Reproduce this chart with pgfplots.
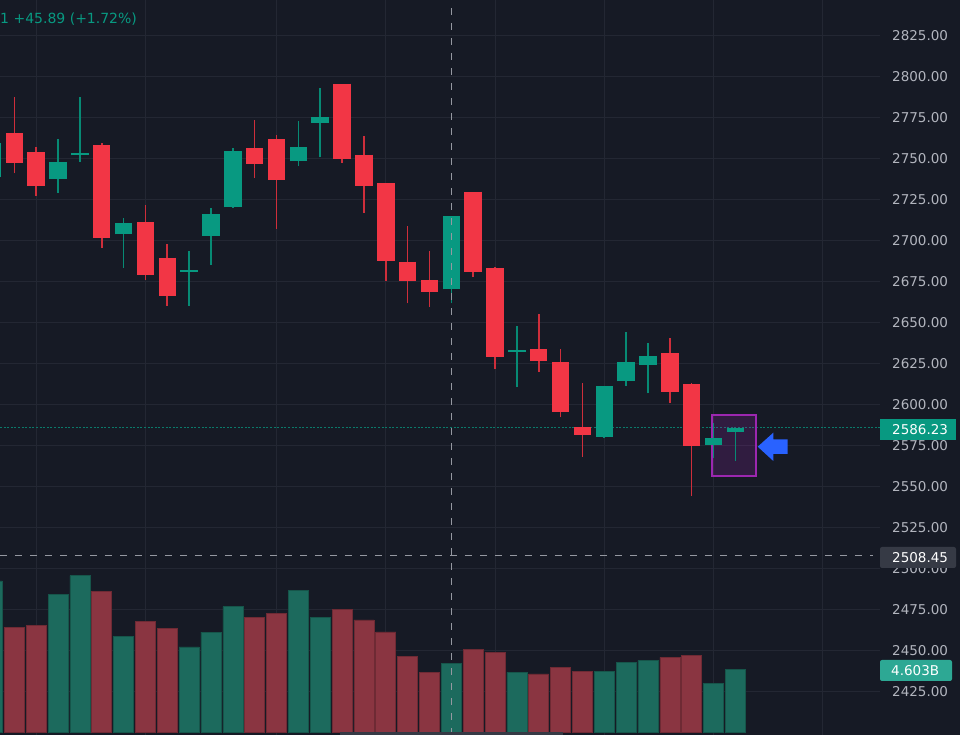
\documentclass[border=0pt]{standalone}
\usepackage{fontspec}
\setmainfont{DejaVu Sans}
\usepackage{pgfplots}
\pgfplotsset{compat=1.18}
\usepackage{pgfplotstable}

\definecolor{bg}{HTML}{161A25}
\definecolor{gridc}{HTML}{232733}
\definecolor{labc}{HTML}{B2B5BE}
\definecolor{upc}{HTML}{089981}
\definecolor{dnc}{HTML}{F23645}
\definecolor{volupc}{HTML}{1C6A5D}
\definecolor{voldnc}{HTML}{8A3541}
\definecolor{crossc}{HTML}{9598A1}
\definecolor{tagc}{HTML}{363A45}
\definecolor{boxc}{HTML}{9C27B0}
\definecolor{arrowc}{HTML}{2962FF}

% candles: index, open, high, low, close
\pgfplotstableread{
i o h l c
0 2739.2 2763.0 2735.0 2759.6
3 2737.8 2762.2 2729.5 2748.4
4 2752.2 2788.0 2748.4 2753.4
6 2704.1 2713.8 2683.7 2711.2
9 2681.0 2694.1 2660.4 2682.5
10 2703.2 2719.9 2685.4 2716.3
11 2720.5 2756.5 2720.0 2755.1
14 2748.6 2773.2 2745.7 2757.1
15 2771.8 2793.1 2751.0 2775.4
21 2670.5 2715.4 2662.0 2715.4
24 2632.3 2648.2 2611.0 2633.5
28 2580.7 2611.8 2580.0 2611.8
29 2614.4 2644.7 2611.8 2626.0
30 2624.6 2638.0 2607.1 2629.9
33 2575.8 2588.8 2567.5 2580.1
34 2583.7 2586.2 2566.0 2586.2
}\tUp

\pgfplotstableread{
i o h l c
1 2765.7 2788.0 2741.3 2747.7
2 2754.1 2757.5 2727.6 2733.7
5 2758.4 2759.6 2695.6 2702.0
7 2711.4 2722.0 2676.2 2679.5
8 2689.8 2698.2 2660.4 2666.5
12 2756.5 2773.8 2738.6 2746.8
13 2762.2 2764.6 2707.3 2737.0
16 2795.9 2795.9 2747.7 2750.2
17 2752.6 2764.0 2717.3 2733.7
18 2735.2 2735.2 2675.6 2687.6
19 2687.4 2709.3 2662.0 2675.6
20 2676.2 2694.1 2659.9 2668.9
22 2730.1 2730.1 2677.9 2681.1
23 2683.5 2684.3 2621.8 2629.3
25 2634.1 2655.5 2620.1 2627.0
26 2626.0 2634.1 2592.5 2595.5
27 2586.6 2613.6 2568.5 2581.5
31 2631.5 2640.7 2601.4 2608.1
32 2612.6 2613.6 2544.5 2575.2
}\tDown

% volume in billions
\pgfplotstableread{
i v
0 11.16
3 10.18
4 11.55
6 7.07
9 6.28
10 7.37
11 9.26
14 10.44
15 8.45
21 5.08
24 4.41
28 4.49
29 5.17
30 5.30
33 3.57
34 4.603
}\tVolUp

\pgfplotstableread{
i v
1 7.74
2 7.86
5 10.37
7 8.18
8 7.66
12 8.48
13 8.77
16 9.07
17 8.28
18 7.39
19 5.59
20 4.38
22 6.08
23 5.86
25 4.29
26 4.78
27 4.49
31 5.52
32 5.67
}\tVolDown

\pgfplotsset{chart/.style={at={(0pt,0pt)}, anchor=south west,
    width=880pt, height=735pt, scale only axis,
    xmin=0.3455, xmax=40.62}}

\begin{document}
\begin{tikzpicture}
\useasboundingbox (0pt,0pt) rectangle (960pt,735pt);
\fill[bg] (0pt,0pt) rectangle (960pt,735pt);

% grid and price scale
\begin{axis}[chart,
    ymin=2398.78, ymax=2846.95,
    axis line style={draw=none},
    major tick length=0pt,
    xtick={2,7,13,18,23,28,33,38}, xticklabel=\empty,
    ytick={2425,2450,...,2825},
    xmajorgrids, ymajorgrids,
    grid style={gridc, line width=1pt},
    yticklabel pos=right,
    yticklabel style={anchor=west, inner sep=0pt, xshift=12pt, text=labc,
        font=\fontsize{13.5}{16}\selectfont,
        /pgf/number format/fixed, /pgf/number format/fixed zerofill,
        /pgf/number format/precision=2, /pgf/number format/1000 sep={},
        /pgf/number format/assume math mode=true},
]
\addplot[upc!75!bg, line width=1.2pt, dash pattern=on 2pt off 1.6pt]
    coordinates {(0.3455,2586.23) (40.62,2586.23)};
\end{axis}

% volume
\begin{axis}[chart, hide axis, ymin=-0.2216, ymax=54.08,
    ybar, bar width=20pt]
\addplot[fill=volupc, draw=volupc!80!black, line width=0.6pt, bar shift=0pt]
    table[x=i, y=v] {\tVolUp};
\addplot[fill=voldnc, draw=voldnc!80!black, line width=0.6pt, bar shift=0pt]
    table[x=i, y=v] {\tVolDown};
\end{axis}

\begin{scope}[x=1pt, y=1pt]
\fill[boxc, fill opacity=0.2] (712,259.3) rectangle (756.3,320);
\draw[boxc, line width=2pt] (712,259.3) rectangle (756.3,320);
\end{scope}

% candles
\begin{axis}[chart, hide axis, ymin=2398.78, ymax=2846.95]
\addplot[upc!90!black, line width=1.6pt, quiver={u=0, v=\thisrow{h}-\thisrow{l}}]
    table[x=i, y=l] {\tUp};
\addplot[dnc!85!black, line width=1.6pt, quiver={u=0, v=\thisrow{h}-\thisrow{l}}]
    table[x=i, y=l] {\tDown};
\addplot[upc, line width=17.5pt, quiver={u=0, v=\thisrow{c}-\thisrow{o}}]
    table[x=i, y=o] {\tUp};
\addplot[dnc, line width=17.5pt, quiver={u=0, v=\thisrow{c}-\thisrow{o}}]
    table[x=i, y=o] {\tDown};
% crosshair
\addplot[crossc, line width=1pt, dash pattern=on 7pt off 8pt]
    coordinates {(21,2398.78) (21,2846.95)};
\addplot[crossc, line width=1pt, dash pattern=on 7pt off 8pt]
    coordinates {(0.3455,2508.45) (40.30,2508.45)};
\end{axis}

\begin{scope}[x=1pt, y=1pt]
% arrow
\fill[arrowc] (757.7,288.3) -- (773.3,302.3) -- (773.3,295.7) -- (787.7,295.7)
    -- (787.7,281) -- (773.3,281) -- (773.3,274) -- cycle;
% price tags
\fill[upc] (880,295) rectangle (956,316);
\node[anchor=west, inner sep=0pt, text=white, font=\fontsize{13.5}{16}\selectfont]
    at (892,305.5) {2586.23};
\fill[tagc, rounded corners=2pt] (880,167) rectangle (956,188);
\node[anchor=west, inner sep=0pt, text=white, font=\fontsize{13.5}{16}\selectfont]
    at (892,177.5) {2508.45};
\fill[upc!85!white, rounded corners=2pt] (880,54) rectangle (952,75);
\node[anchor=west, inner sep=0pt, text=white, font=\fontsize{13.5}{16}\selectfont]
    at (891,64.5) {4.603B};
% header
\node[anchor=west, inner sep=0pt, text=upc, font=\fontsize{14}{16}\selectfont]
    at (0,716) {1 +45.89 (+1.72\%)};
% scrollbar
\fill[tagc] (340,0) rectangle (563,2.5);
\end{scope}
\end{tikzpicture}
\end{document}
